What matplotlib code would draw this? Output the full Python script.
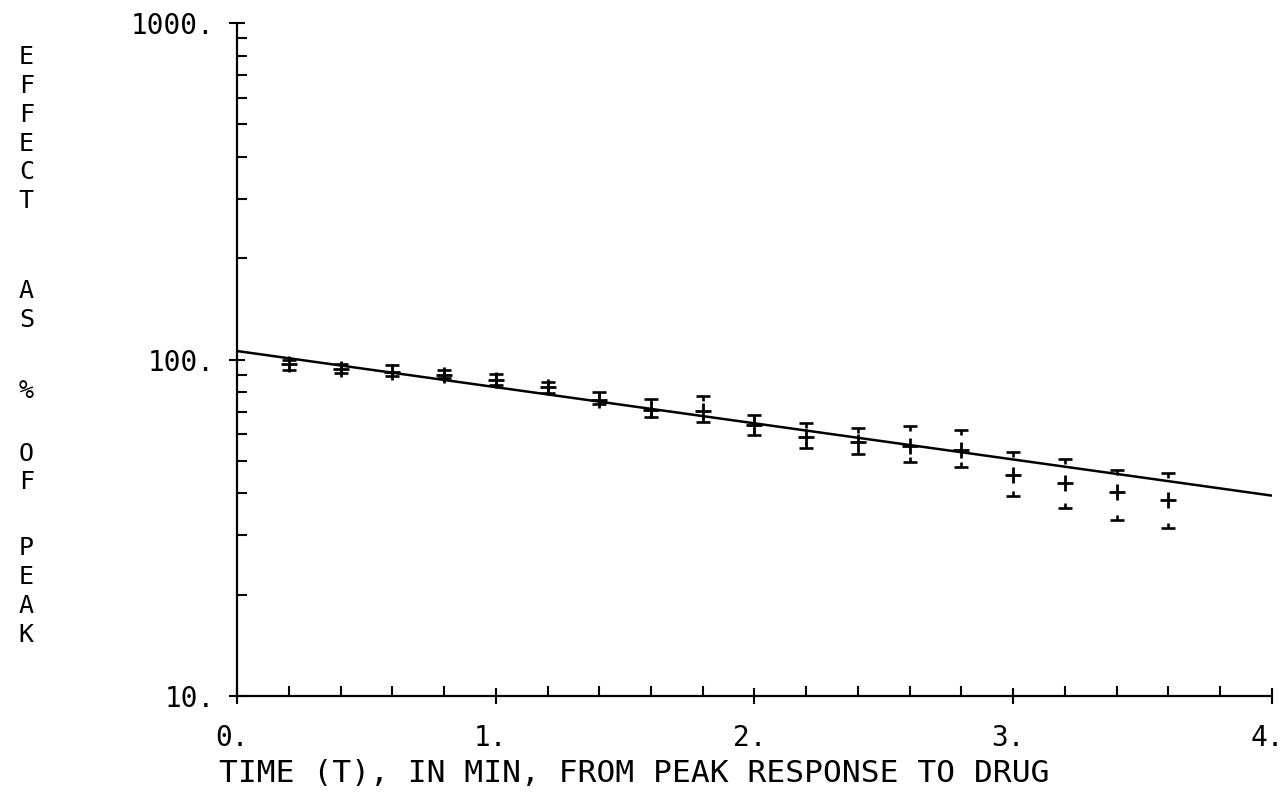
import numpy as np
import matplotlib
matplotlib.use("Agg")
import matplotlib.pyplot as plt
import matplotlib.transforms as mtransforms
from matplotlib.path import Path
from matplotlib.ticker import FixedLocator, LogLocator, NullFormatter

# time after peak (min) and effect as % of peak, with error-bar ends
t = [0.2, 0.4, 0.6, 0.8, 1.0, 1.2, 1.4, 1.6, 1.8,
     2.0, 2.2, 2.4, 2.6, 2.8, 3.0, 3.2, 3.4, 3.6]
effect = [96.9, 94.0, 92.0, 89.9, 86.9, 83.0, 75.8, 70.8, 70.3,
          63.9, 59.0, 57.0, 55.3, 53.8, 45.4, 42.9, 40.5, 38.2]
upper = [100.0, 97.0, 96.3, 93.0, 90.5, 85.5, 80.2, 76.3, 78.0,
         68.4, 64.6, 62.8, 63.6, 61.7, 53.2, 50.5, 47.1, 46.1]
lower = [93.0, 91.0, 89.5, 88.0, 84.0, 79.4, 73.6, 67.6, 65.3,
         59.6, 54.5, 52.3, 49.5, 47.8, 39.3, 36.1, 33.3, 31.5]

# fitted exponential decay (straight on the log axis)
fit_t = [0.0, 4.0]
fit_effect = [106.0, 39.4]

xtick_vals = [0, 1, 2, 3, 4]
xtick_text = ["0.", "1.", "2.", "3.", "4."]
ytick_vals = [10, 100, 1000]
ytick_text = ["10.", "100.", "1000."]

# y label is written one letter per line, word by word
ylabel_words = ["EFFECT", "AS", "%", "OF", "PEAK"]
ylabel_top = [0.943, 0.650, 0.525, 0.446, 0.327]   # fig y of first letter

FONT = "DejaVu Sans Mono"
plt.rcParams["font.family"] = FONT

# cap markers: bar at the end, short stem toward the point
top_cap = Path([(-1, 0), (1, 0), (0, 0), (0, -0.8)],
               [Path.MOVETO, Path.LINETO, Path.MOVETO, Path.LINETO])
bot_cap = Path([(-1, 0), (1, 0), (0, 0), (0, 0.8)],
               [Path.MOVETO, Path.LINETO, Path.MOVETO, Path.LINETO])

fig = plt.figure(figsize=(12.86, 7.97), dpi=100)
ax = fig.add_axes([0.1843, 0.1267, 0.8048, 0.8444])

ax.plot(fit_t, fit_effect, color="black", lw=1.8, solid_capstyle="butt")
ax.plot(t, effect, ls="none", marker="+", ms=11, mew=2.0, color="black")
ax.plot(t, upper, ls="none", marker=top_cap, ms=9.5, mew=1.9, color="black")
ax.plot(t, lower, ls="none", marker=bot_cap, ms=9.5, mew=1.9, color="black")

ax.set_yscale("log")
ax.set_xlim(0, 4)
ax.set_ylim(10, 1000)

ax.xaxis.set_major_locator(FixedLocator(xtick_vals))
ax.set_xticklabels(xtick_text)
ax.xaxis.set_minor_locator(FixedLocator(np.arange(0.2, 4.0, 0.2)))
ax.yaxis.set_major_locator(FixedLocator(ytick_vals))
ax.set_yticklabels(ytick_text)
ax.yaxis.set_minor_locator(LogLocator(base=10, subs=np.arange(2, 10)))
ax.yaxis.set_minor_formatter(NullFormatter())

ax.tick_params(which="major", direction="inout", length=12, width=1.5,
               labelsize=20, color="black")
ax.tick_params(axis="x", which="major", pad=14)
ax.tick_params(axis="y", which="major", pad=10)
ax.tick_params(which="minor", direction="in", length=7, width=1.5)

# nudge x tick labels a little left so "4." stays inside the figure
shift = mtransforms.ScaledTranslation(-5 / 100, 0, fig.dpi_scale_trans)
for lab in ax.get_xticklabels():
    lab.set_transform(lab.get_transform() + shift)

for s in ("top", "right"):
    ax.spines[s].set_visible(False)
for s in ("left", "bottom"):
    ax.spines[s].set_linewidth(1.6)

fig.text(0.493, 0.03, "TIME (T), IN MIN, FROM PEAK RESPONSE TO DRUG",
         ha="center", va="center", fontsize=22.5)

for word, ytop in zip(ylabel_words, ylabel_top):
    fig.text(0.0205, ytop, "\n".join(word), ha="center", va="top",
             fontsize=18, linespacing=1.25)

fig.savefig("out.png", dpi=100)
